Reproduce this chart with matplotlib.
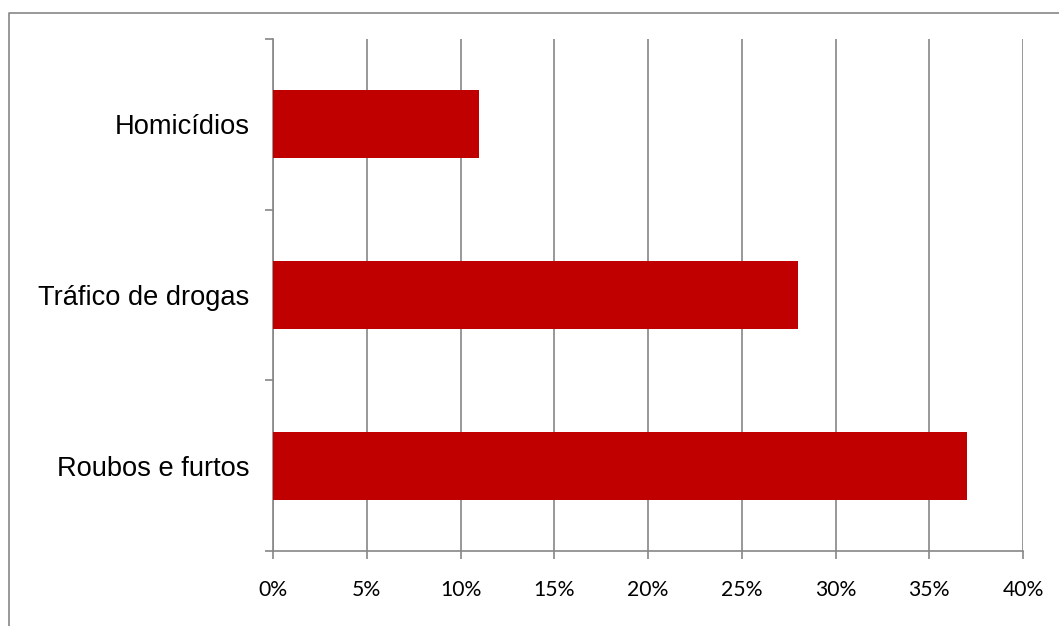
import matplotlib
matplotlib.use("Agg")
import matplotlib.pyplot as plt
from matplotlib.lines import Line2D
from matplotlib.ticker import FixedLocator, PercentFormatter

categories = ["Roubos e furtos", "Tráfico de drogas", "Homicídios"]
values = [37, 28, 11]
xticks = [0, 5, 10, 15, 20, 25, 30, 35, 40]

W, H, DPI = 1059, 626, 100
fig = plt.figure(figsize=(W / DPI, H / DPI), dpi=DPI)
gray = "#868686"

ax = fig.add_axes([273 / W, 1 - 551 / H, (1023 - 273) / W, (551 - 39) / H])
ypos = list(range(len(categories)))
ax.barh(ypos, values, height=0.4, color="#C00000", zorder=3)
ax.set_xlim(0, 40)
ax.set_ylim(-0.5, len(categories) - 0.5)

ax.set_xticks(xticks)
ax.xaxis.set_major_formatter(PercentFormatter(decimals=0))
ax.grid(axis="x", color=gray, linewidth=1.2, zorder=0)
ax.set_axisbelow(True)

ax.set_yticks(ypos)
ax.set_yticklabels(categories, family="Liberation Sans", fontsize=19.6, color="black")
ax.yaxis.set_minor_locator(FixedLocator([-0.5, 0.5, 1.5, 2.5]))
ax.tick_params(axis="y", which="major", length=0, pad=17)
ax.tick_params(axis="y", which="minor", length=6, width=1.2, color=gray, direction="out")
ax.tick_params(axis="x", which="major", length=6, width=1.2, color=gray, direction="out", pad=15)
for lab in ax.get_xticklabels():
    lab.set_family("Lato")
    lab.set_fontsize(15.2)
    lab.set_color("black")

for s in ["top", "right"]:
    ax.spines[s].set_visible(False)
for s in ["left", "bottom"]:
    ax.spines[s].set_color(gray)
    ax.spines[s].set_linewidth(1.2)

# outer chart border (cropped at right and bottom)
fig.add_artist(Line2D([8.5 / W, 8.5 / W, 1.0], [0.0, 1 - 12.5 / H, 1 - 12.5 / H],
                      transform=fig.transFigure, color=gray, linewidth=1.2))

fig.savefig("out.png", dpi=DPI)
